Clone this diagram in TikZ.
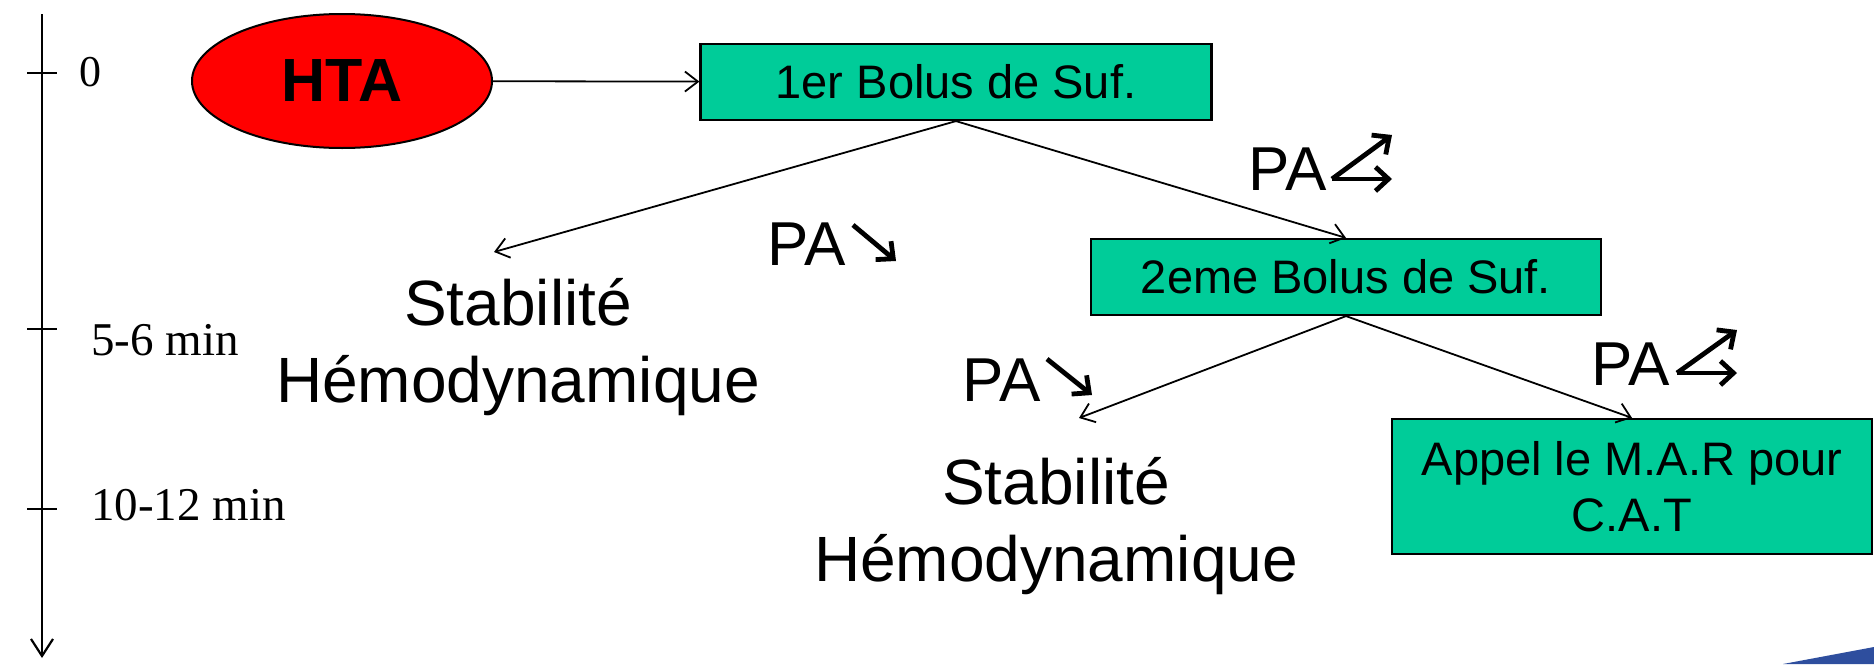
\documentclass[tikz,border=0pt]{standalone}
\usepackage{fontspec}
\setmainfont{Liberation Sans}
\newfontfamily\timesf{Liberation Serif}
\usetikzlibrary{shapes.geometric,arrows.meta}
\definecolor{boxteal}{HTML}{00CC99}
\definecolor{wedgeblue}{HTML}{2E4E9E}
\begin{document}
\begin{tikzpicture}[x=1pt,y=-1pt,
  conn/.style={line width=1.8pt,-{Straight Barb[length=13pt,width=20pt]}},
  flowbox/.style={draw,line width=2.2pt,fill=boxteal,inner sep=0pt,align=center},
  bigtxt/.style={font=\fontsize{64}{77}\selectfont,inner sep=0pt,align=center},
  patxt/.style={font=\fontsize{62}{70}\selectfont,inner sep=0pt,anchor=base},
  tlabel/.style={inner sep=0pt,anchor=base west},
  paarrow/.style={line width=4.8pt,-{Straight Barb[length=13pt,width=24pt]}}
]
\useasboundingbox (0,0) rectangle (1874,664);
\fill[wedgeblue] (1783,664) -- (1874,647) -- (1874,664) -- cycle;

% time axis
\coordinate (axtop) at (42,14);
\coordinate (axbot) at (42,658);
\draw[line width=2.2pt,-{Straight Barb[length=17pt,width=22pt]}] (axtop) -- (axbot);
\foreach \y in {73,329,509} \draw[line width=2pt] (27,\y) -- (57,\y);
\node[tlabel,font=\timesf\fontsize{44}{50}\selectfont] (t0) at (79,86) {0};
\node[tlabel,font=\timesf\fontsize{47}{52}\selectfont] (t5) at (91,355) {5-6 min};
\node[tlabel,font=\timesf\fontsize{47}{52}\selectfont] (t10) at (91,520) {10-12 min};

% nodes
\node[ellipse,draw,line width=2pt,fill=red,minimum width=300pt,minimum height=134pt,inner sep=0pt,font=\bfseries\fontsize{61}{70}\selectfont] (hta) at (342,81) {HTA};
\node[flowbox,minimum width=511pt,minimum height=76pt,font=\fontsize{47}{52}\selectfont] (b1) at (956,82) {1er Bolus de Suf.};
\node[flowbox,minimum width=510pt,minimum height=76pt,font=\fontsize{47}{52}\selectfont] (b2) at (1346,277) {2eme Bolus de Suf.};
\node[flowbox,minimum width=480pt,minimum height=135pt,font=\fontsize{47}{56}\selectfont] (b3) at (1632,486.5) {Appel le M.A.R pour\\C.A.T};
\node[bigtxt] (s1) at (518,347.5) {Stabilité\\Hémodynamique};
\node[bigtxt] (s2) at (1056,526.5) {Stabilité\\Hémodynamique};
\coordinate (e1) at (494,252);
\coordinate (e2) at (1079,418);

% connectors
\draw[conn] (hta) -- (b1);
\draw[conn] (b1.south) -- (e1);
\draw[conn] (b1.south) -- (b2.north);
\draw[conn] (b2.south) -- (e2);
\draw[conn] (b2.south) -- (b3.north);

% PA labels
\node[patxt] (pa1) at (807,265) {PA};
\node[patxt] (pa2) at (1288,190) {PA};
\node[patxt] (pa3) at (1002,401) {PA};
\node[patxt] (pa4) at (1631,385) {PA};
\draw[paarrow] (853,225) -- (896,261);
\draw[paarrow] (1047,359) -- (1092,395);
\draw[paarrow] (1332,179) -- (1392,135);
\draw[paarrow] (1332,179) -- (1392,179);
\draw[paarrow] (1677,373) -- (1737,330);
\draw[paarrow] (1677,373) -- (1737,373);
\end{tikzpicture}
\end{document}
